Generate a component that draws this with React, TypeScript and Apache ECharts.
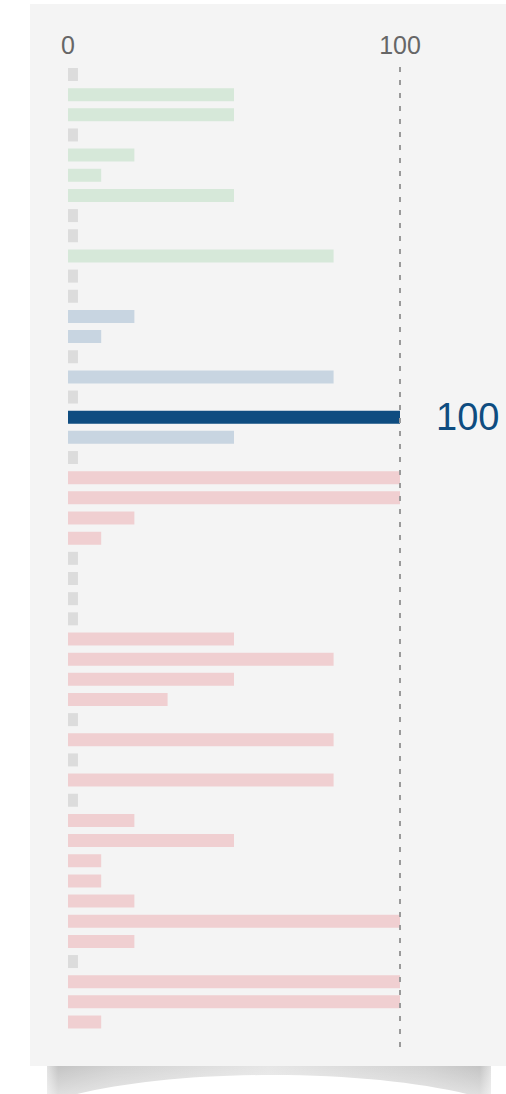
import React, { useEffect, useRef } from "react";
import * as echarts from "echarts";

// null = no data (drawn as a small grey placeholder)
const VALUES: (number | null)[] = [
  null, 50, 50, null, 20, 10, 50, null, null, 80, null, null,
  20, 10, null, 80, null, 100, 50, null,
  100, 100, 20, 10, null, null, null, null, 50, 80, 50, 30, null, 80, null, 80,
  null, 20, 50, 10, 10, 20, 100, 20, null, 100, 100, 10,
];
const GROUPS: string[] = [
  ...Array(12).fill("green"),
  ...Array(8).fill("blue"),
  ...Array(28).fill("red"),
];
const HIGHLIGHT_INDEX = 17;
const CATEGORIES = VALUES.map((_, i) => `Item ${i + 1}`);
const X_TICKS = [0, 100];
const PLACEHOLDER_VALUE = 3;

const GROUP_COLORS: Record<string, string> = {
  green: "#d6e8d9",
  blue: "#c8d5e1",
  red: "#f0cfd1",
};
const HIGHLIGHT_COLOR = "#0e4c80";
const PLACEHOLDER_COLOR = "#dcdcdc";
const FONT = "Liberation Sans";

export default function App() {
  const ref = useRef<HTMLDivElement>(null);
  useEffect(() => {
    if (!ref.current) return;
    const chart = echarts.init(ref.current, undefined, { renderer: "svg" });
    const gridTop = 64.4;
    const gridHeight = 967.7;
    chart.setOption({
      animation: false,
      backgroundColor: "#ffffff",
      textStyle: { fontFamily: FONT },
      grid: { left: 68, right: 106, top: gridTop, height: gridHeight },
      xAxis: {
        type: "value",
        position: "top",
        min: X_TICKS[0],
        max: X_TICKS[X_TICKS.length - 1],
        interval: X_TICKS[1] - X_TICKS[0],
        axisLine: { show: false },
        axisTick: { show: false },
        splitLine: { show: false },
        axisLabel: {
          fontSize: 25,
          color: "#666666",
          fontFamily: FONT,
          margin: 7,
        },
      },
      yAxis: {
        type: "category",
        inverse: true,
        data: CATEGORIES,
        show: false,
      },
      graphic: [
        {
          type: "rect",
          z: -10,
          silent: true,
          shape: { x: 47, y: 1060, width: 444, height: 34 },
          style: {
            fill: new echarts.graphic.LinearGradient(0, 0, 1, 0, [
              { offset: 0, color: "#e2e2e2" },
              { offset: 0.025, color: "#c4c4c4" },
              { offset: 0.15, color: "#d2d2d2" },
              { offset: 0.5, color: "#e6e6e6" },
              { offset: 0.85, color: "#d2d2d2" },
              { offset: 0.975, color: "#c4c4c4" },
              { offset: 1, color: "#e2e2e2" },
            ]),
          },
        },
        {
          type: "rect",
          z: -9.5,
          silent: true,
          shape: { x: 47, y: 1066, width: 444, height: 28 },
          style: {
            fill: new echarts.graphic.LinearGradient(0, 0, 0, 1, [
              { offset: 0, color: "rgba(255,255,255,0)" },
              { offset: 1, color: "rgba(255,255,255,0.45)" },
            ]),
          },
        },
        {
          type: "ellipse",
          z: -9,
          silent: true,
          shape: { cx: 272, cy: 1135, rx: 267, ry: 60 },
          style: { fill: "#ffffff" },
        },
        {
          type: "rect",
          z: -8,
          silent: true,
          shape: { x: 30, y: 4, width: 480, height: 1062 },
          style: { fill: "#f4f4f4" },
        },
      ],
      series: [
        {
          type: "bar",
          barWidth: 13,
          barGap: "-100%",
          silent: true,
          data: VALUES.map((v) =>
            v === null
              ? { value: PLACEHOLDER_VALUE, itemStyle: { color: PLACEHOLDER_COLOR } }
              : { value: 0, itemStyle: { color: "transparent" } }
          ),
        },
        {
          type: "bar",
          barWidth: 13,
          barGap: "-100%",
          silent: true,
          data: VALUES.map((v, i) => {
            if (v === null) return { value: null };
            const isHi = i === HIGHLIGHT_INDEX;
            return {
              value: v,
              itemStyle: { color: isHi ? HIGHLIGHT_COLOR : GROUP_COLORS[GROUPS[i]] },
              label: isHi
                ? {
                    show: true,
                    position: "right",
                    distance: 36,
                    formatter: "{c}",
                    fontSize: 38,
                    color: HIGHLIGHT_COLOR,
                    fontFamily: FONT,
                  }
                : { show: false },
            };
          }),
        },
      ],
    });
    const x100 = chart.convertToPixel({ xAxisIndex: 0 }, X_TICKS[X_TICKS.length - 1]) as number;
    chart.setOption({
      graphic: [
        {},
        {},
        {},
        {},
        {
          type: "line",
          z: 5,
          silent: true,
          shape: { x1: x100, y1: 67, x2: x100, y2: 1051 },
          style: { stroke: "#9a9a9a", lineWidth: 2, lineDash: [5, 8] },
        },
      ],
    });
    return () => chart.dispose();
  }, []);
  return (
    <div
      ref={ref}
      style={{ position: "fixed", left: 0, top: 0, width: 506, height: 1094 }}
    />
  );
}
